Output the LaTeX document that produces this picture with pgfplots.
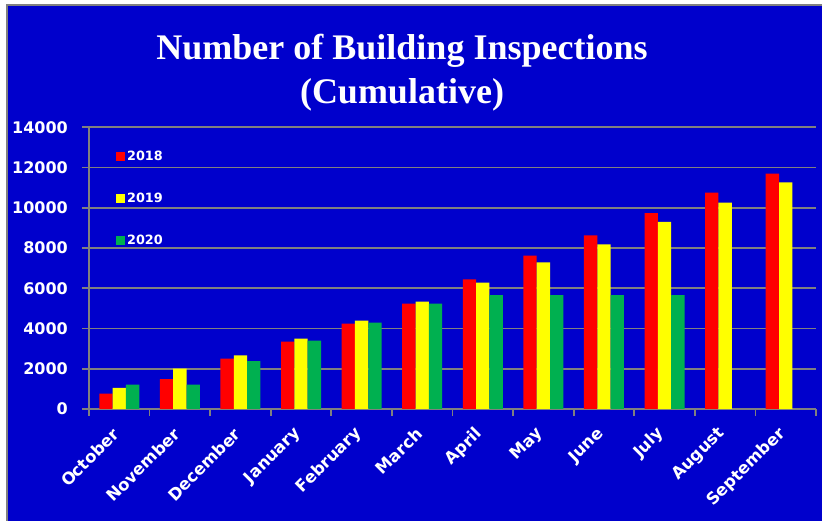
\documentclass[border=0pt]{standalone}
\usepackage{fontspec}
\usepackage{pgfplots}
\pgfplotsset{compat=1.18}
\setmainfont{DejaVu Sans}
\newfontfamily\titlefont{Liberation Serif}
\definecolor{bgblue}{HTML}{0000CC}
\definecolor{framegray}{HTML}{808080}
\definecolor{barred}{HTML}{FF0000}
\definecolor{baryellow}{HTML}{FFFF00}
\definecolor{bargreen}{HTML}{00B050}

\begin{document}
\begin{tikzpicture}[x=1bp,y=1bp]
\fill[white] (0,0) rectangle (822,521);
\filldraw[fill=bgblue, draw=framegray, line width=2bp] (7,-10) rectangle (840,516);
\node[anchor=base, text=white, inner sep=0pt,
  font=\titlefont\bfseries\fontsize{36bp}{40bp}\selectfont] at (402,461.7) {Number of Building Inspections};
\node[anchor=base, text=white, inner sep=0pt,
  font=\titlefont\bfseries\fontsize{36bp}{40bp}\selectfont] at (402,417.7) {(Cumulative)};

\begin{axis}[
  at={(89bp,112bp)}, anchor=south west,
  scale only axis, width=727bp, height=281.7bp,
  xmin=-0.5, xmax=11.5, ymin=0, ymax=14000,
  axis x line*=bottom, axis y line*=left,
  axis line style={framegray, line width=1.8bp, -},
  ybar=0pt, bar width=0.22,
  xtick={0,...,11},
  xticklabels={October,November,December,January,February,March,April,May,June,July,August,September},
  minor xtick={-0.5,0.5,...,11.5},
  major x tick style={draw=none},
  ytick={0,2000,...,14000},
  scaled y ticks=false,
  yticklabels={0,2000,4000,6000,8000,10000,12000,14000},
  tick align=outside,
  major tick length=7bp, minor tick length=7bp,
  tick style={framegray, line width=1.8bp},
  ymajorgrids,
  grid style={framegray, line width=1.8bp},
  xticklabel style={font=\bfseries\fontsize{16.5bp}{18bp}\selectfont, text=white,
    xshift=-3bp, yshift=-15bp, rotate=45, anchor=east, inner sep=0pt},
  yticklabel style={font=\bfseries\fontsize{16bp}{18bp}\selectfont, text=white,
    anchor=east, inner sep=0pt, xshift=-14bp},
  legend style={at={(0.037,0.922)}, anchor=north west, draw=none, fill=none,
    text=white, font=\bfseries\fontsize{12.8bp}{14bp}\selectfont,
    inner sep=0pt, row sep=27bp, nodes={inner sep=2bp}},
  legend cell align=left,
  legend image code/.code={\fill[#1, draw=none] (0bp,-4.5bp) rectangle (9bp,4.5bp);},
]
\addplot[fill=barred, draw=none, bar shift=-0.22] coordinates {
  (0,760) (1,1490) (2,2500) (3,3345) (4,4240) (5,5235)
  (6,6445) (7,7620) (8,8630) (9,9740) (10,10750) (11,11695)};
\addlegendentry{2018}
\addplot[fill=baryellow, draw=none, bar shift=0] coordinates {
  (0,1045) (1,2005) (2,2670) (3,3495) (4,4390) (5,5335)
  (6,6280) (7,7290) (8,8185) (9,9295) (10,10255) (11,11265)};
\addlegendentry{2019}
\addplot[fill=bargreen, draw=none, bar shift=0.22] coordinates {
  (0,1210) (1,1210) (2,2385) (3,3395) (4,4290) (5,5235)
  (6,5665) (7,5665) (8,5665) (9,5665)};
\addlegendentry{2020}
\end{axis}
\pgfresetboundingbox
\path (0,0) rectangle (822,521);
\end{tikzpicture}
\end{document}
